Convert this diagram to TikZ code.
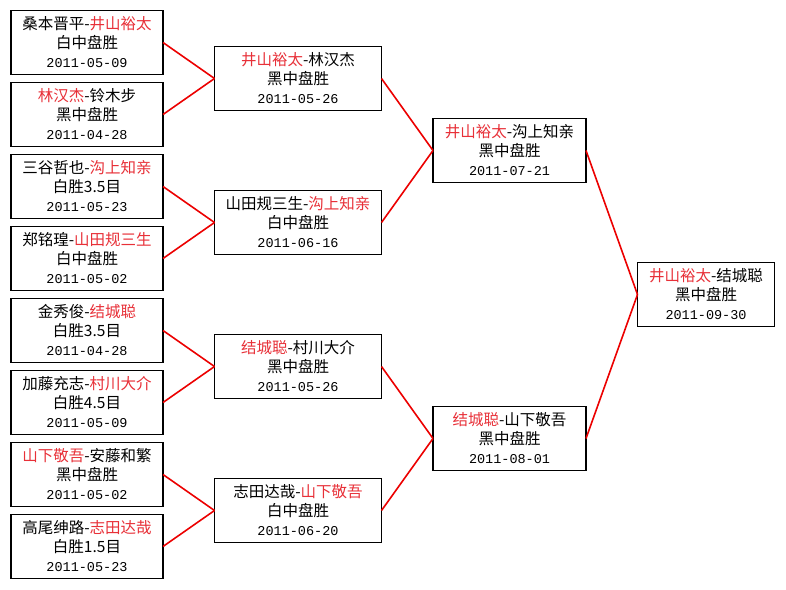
\documentclass[tikz,border=0pt]{standalone}
\usepackage{fontspec}
\newfontfamily\cjk{Noto Sans CJK SC}
\newfontfamily\dfont{Liberation Mono}
\usetikzlibrary{positioning,calc}
\definecolor{winred}{RGB}{232,48,56}
\definecolor{linkred}{RGB}{236,0,0}
\newcommand\win[1]{\textcolor{winred}{#1}}
\newcommand\dt[1]{{\dfont\fontsize{13.5pt}{19pt}\selectfont #1}}
\tikzset{
  font=\cjk\fontsize{15.5pt}{19pt}\selectfont,
  game/.style ={draw, line width=1.8pt, outer sep=0pt, text height=57pt, text depth=7pt, inner sep=0pt, align=center, fill=white},
  rd1/.style  ={game, minimum width=152pt},
  rd2/.style  ={game, minimum width=167pt},
  rd3/.style  ={game, minimum width=153pt},
  fin/.style  ={game, minimum width=137pt},
  lnk/.style  ={draw=linkred, line width=1.6pt},
}
\begin{document}
\begin{tikzpicture}[x=1pt, y=-1pt, node distance=8pt]
  \path[fill=white] (0,0) rectangle (786,589);
  % first round
  \node[rd1] (g1) at (87,42.5) {桑本晋平-\win{井山裕太}\\ 白中盘胜\\ \dt{2011-05-09}};
  \node[rd1, below=of g1] (g2) {\win{林汉杰}-铃木步\\ 黑中盘胜\\ \dt{2011-04-28}};
  \node[rd1, below=of g2] (g3) {三谷哲也-\win{沟上知亲}\\ 白胜3.5目\\ \dt{2011-05-23}};
  \node[rd1, below=of g3] (g4) {郑铭瑝-\win{山田规三生}\\ 白中盘胜\\ \dt{2011-05-02}};
  \node[rd1, below=of g4] (g5) {金秀俊-\win{结城聪}\\ 白胜3.5目\\ \dt{2011-04-28}};
  \node[rd1, below=of g5] (g6) {加藤充志-\win{村川大介}\\ 白胜4.5目\\ \dt{2011-05-09}};
  \node[rd1, below=of g6] (g7) {\win{山下敬吾}-安藤和繁\\ 黑中盘胜\\ \dt{2011-05-02}};
  \node[rd1, below=of g7] (g8) {高尾绅路-\win{志田达哉}\\ 白胜1.5目\\ \dt{2011-05-23}};
  % second round
  \coordinate (m1) at ($(g1.east)!0.5!(g2.east)$);
  \coordinate (m2) at ($(g3.east)!0.5!(g4.east)$);
  \coordinate (m3) at ($(g5.east)!0.5!(g6.east)$);
  \coordinate (m4) at ($(g7.east)!0.5!(g8.east)$);
  \node[rd2, right=51.5pt of m1] (s1) {\win{井山裕太}-林汉杰\\ 黑中盘胜\\ \dt{2011-05-26}};
  \node[rd2, right=51.5pt of m2] (s2) {山田规三生-\win{沟上知亲}\\ 白中盘胜\\ \dt{2011-06-16}};
  \node[rd2, right=51.5pt of m3] (s3) {\win{结城聪}-村川大介\\ 黑中盘胜\\ \dt{2011-05-26}};
  \node[rd2, right=51.5pt of m4] (s4) {志田达哉-\win{山下敬吾}\\ 白中盘胜\\ \dt{2011-06-20}};
  % semifinals
  \coordinate (m5) at ($(s1.east)!0.5!(s2.east)$);
  \coordinate (m6) at ($(s3.east)!0.5!(s4.east)$);
  \node[rd3, right=51.5pt of m5] (q1) {\win{井山裕太}-沟上知亲\\ 黑中盘胜\\ \dt{2011-07-21}};
  \node[rd3, right=51.5pt of m6] (q2) {\win{结城聪}-山下敬吾\\ 黑中盘胜\\ \dt{2011-08-01}};
  % final
  \coordinate (m7) at ($(q1.east)!0.5!(q2.east)$);
  \node[fin, right=51.5pt of m7] (f) {\win{井山裕太}-结城聪\\ 黑中盘胜\\ \dt{2011-09-30}};
  \foreach \a/\b in {g1/s1,g2/s1,g3/s2,g4/s2,g5/s3,g6/s3,g7/s4,g8/s4,s1/q1,s2/q1,s3/q2,s4/q2,q1/f,q2/f}
    \draw[lnk] (\a.east) -- (\b.west);
\end{tikzpicture}
\end{document}
